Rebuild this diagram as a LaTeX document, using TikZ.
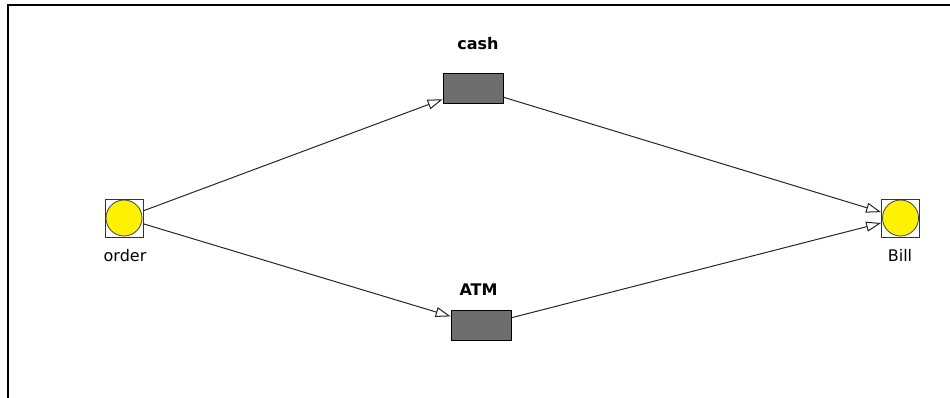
\documentclass[tikz,border=0pt]{standalone}
\usepackage{fontspec}
\setmainfont{DejaVu Sans}
\usetikzlibrary{arrows.meta}
\begin{document}
\begin{tikzpicture}[x=1pt,y=-1pt,
  place/.style={draw=black!80, line width=0.8pt, minimum size=38pt, inner sep=0pt, fill=white,
    path picture={\fill[yellow, draw=black!75, line width=0.8pt]
      (path picture bounding box.center) circle (18pt);}},
  trans/.style={draw=black, fill=black!57, minimum width=60pt, minimum height=30pt,
    inner sep=0pt, line width=0.8pt},
  arc/.style={draw=black!85, line width=1pt,
    -{Triangle[fill=white, length=15pt, width=10pt]}},
  lbl/.style={font=\fontsize{16}{18}\selectfont, anchor=base, inner sep=0pt},
  blbl/.style={lbl, font=\fontsize{16}{18}\selectfont\bfseries}]
\useasboundingbox (0,0) rectangle (950,398);
% frame along the top and left edges
\draw[line width=2pt, line join=miter] (7.7,398) -- (7.7,5) -- (950,5);

% places
\node[place] (order) at (124,218) {};
\node[place] (bill) at (900.5,218) {};
% transitions
\node[trans] (cash) at (473,88) {};
\node[trans] (atm) at (481,325.5) {};

% labels
\node[lbl] (orderlbl) at (125,261) {order};
\node[lbl] (billlbl) at (900,261) {Bill};
\node[blbl] (cashlbl) at (478,50) {cash};
\node[blbl] (atmlbl) at (478.5,295) {ATM};

% arcs
\draw[arc] (order) -- (cash);
\draw[arc] (order) -- (atm);
\draw[arc] (cash) -- (bill);
\draw[arc] (atm) -- (bill);
\end{tikzpicture}
\end{document}
